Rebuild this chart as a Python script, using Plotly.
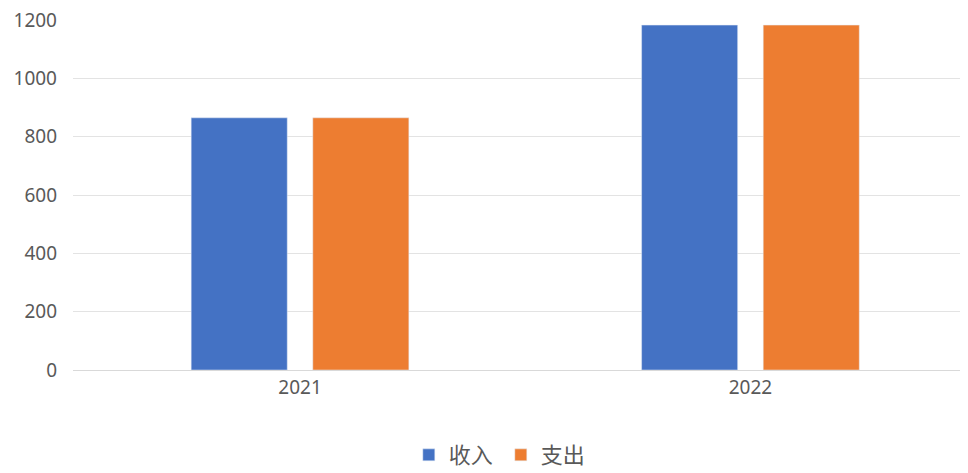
import plotly.graph_objects as go

categories = ["2021", "2022"]
income = [865, 1183]
expense = [865, 1183]
y_ticks = [0, 200, 400, 600, 800, 1000, 1200]

fig = go.Figure()
fig.add_trace(go.Bar(name="收入", x=categories, y=income, marker_color="#4472C4"))
fig.add_trace(go.Bar(name="支出", x=categories, y=expense, marker_color="#ED7D31"))

# page body has an 8px margin, so the figure is sized to fit inside the window
fig.update_layout(
    width=960, height=465,
    margin=dict(l=65, r=0, t=12, b=103, autoexpand=False),
    paper_bgcolor="white", plot_bgcolor="white",
    barmode="group", bargap=0.46, bargroupgap=0.21,
    font=dict(family="Noto Sans, Noto Sans CJK SC", size=19, color="#595959"),
    legend=dict(orientation="h", x=0.478, xanchor="center", y=-0.243, yanchor="middle",
                itemwidth=30, entrywidth=47, entrywidthmode="pixels",
                font=dict(size=22, color="#595959")),
    xaxis=dict(type="category", range=[-0.504, 1.483], showgrid=False, showline=True,
               linecolor="#d9d9d9", ticks="", tickfont=dict(size=19), automargin=False),
    yaxis=dict(range=[0, 1200.5], tickvals=y_ticks, showgrid=True, gridcolor="#e3e3e3",
               zeroline=False, ticks="", tickfont=dict(size=19), ticklabelstandoff=15,
               ticklabeloverflow="allow", automargin=False),
)

fig.write_html("out.html")
